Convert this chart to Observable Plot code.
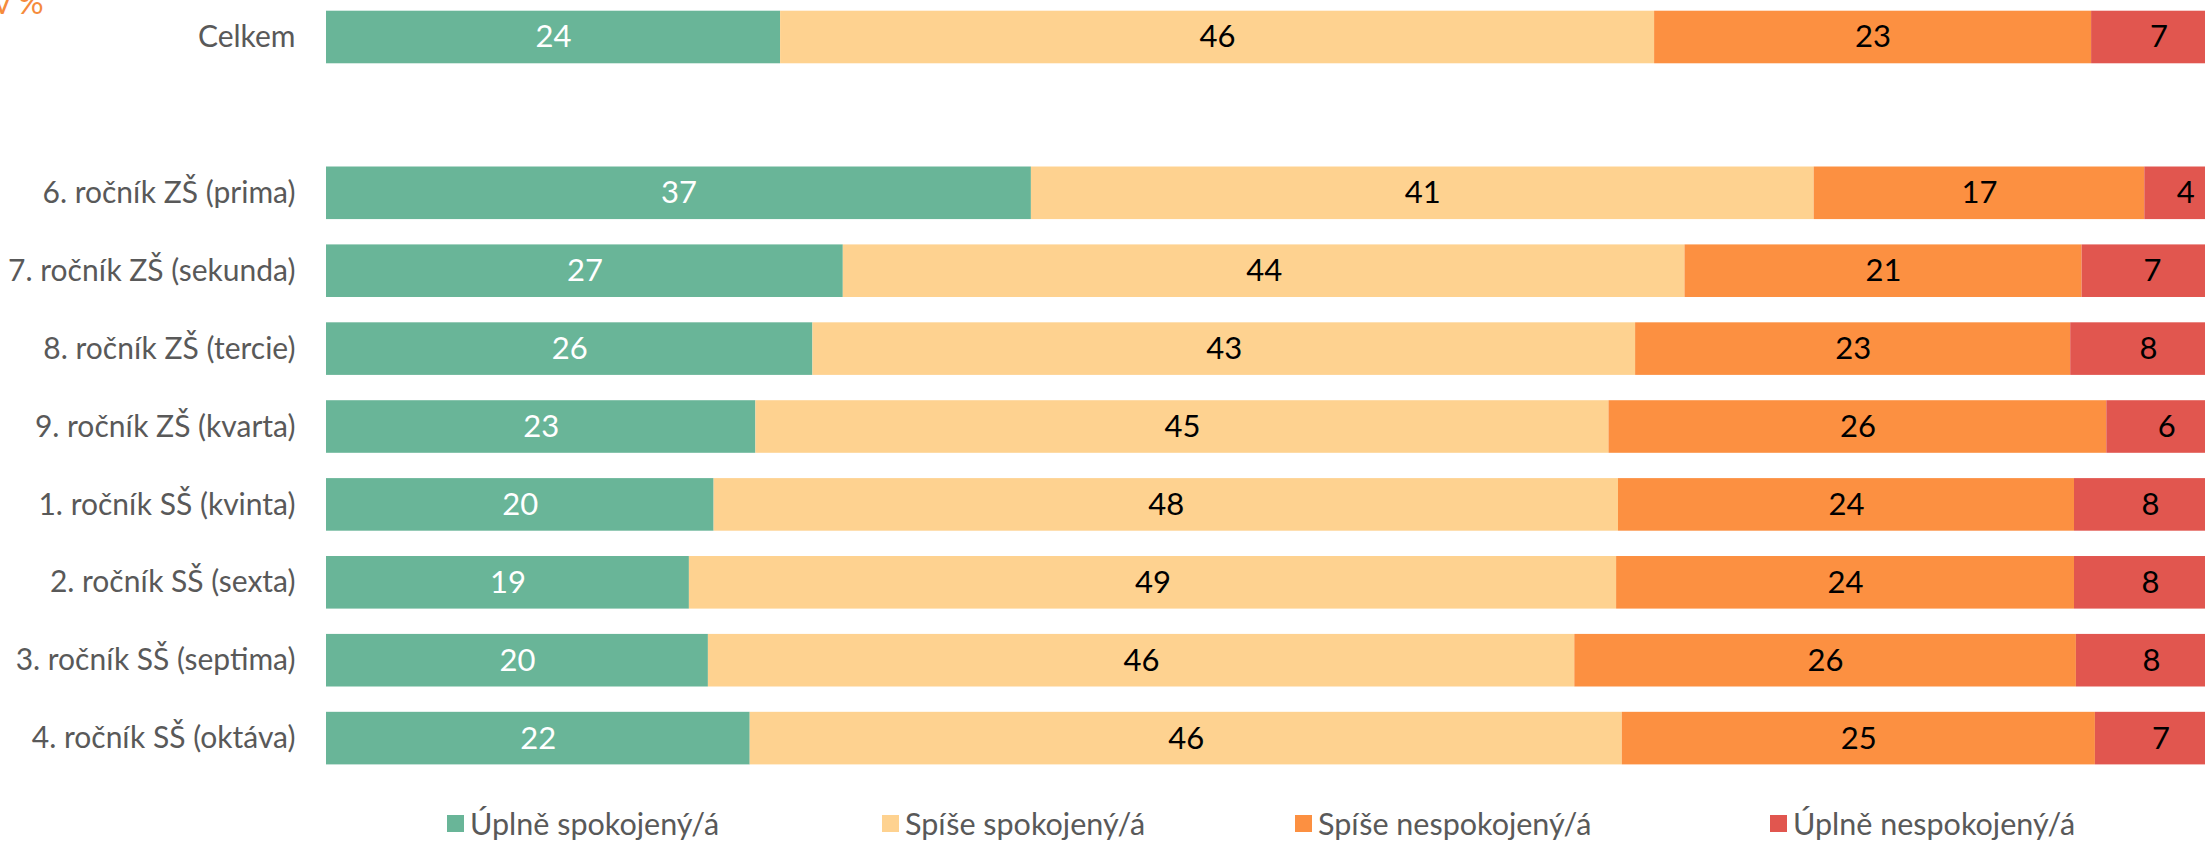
<!DOCTYPE html>
<html>
<head>
<meta charset="utf-8">
<script src="https://cdn.jsdelivr.net/npm/d3@7"></script>
<script src="https://cdn.jsdelivr.net/npm/@observablehq/plot@0.6"></script>
<style>
  html, body { margin: 0; padding: 0; background: #fff; overflow: hidden; }
  body { position: relative; width: 2205px; height: 842px; font-family: Lato, "Noto Sans", sans-serif; }
  #unit { position: absolute; left: -6px; top: -17px; color: #f58b3c; font-size: 32px; line-height: 38px; font-family: Lato, sans-serif; }
  #legend { position: absolute; top: 804px; left: 0; width: 2205px; height: 38px; }
  .item { position: absolute; top: 0; display: flex; align-items: center; height: 38px; font-size: 30.5px; color: #595959; }
  .sw { width: 17px; height: 17px; margin-right: 6px; }
</style>
</head>
<body>
<div id="unit">v %</div>
<div id="chart"></div>
<div id="legend"></div>
<script>
const groups = ["Celkem", "6. ročník ZŠ (prima)", "7. ročník ZŠ (sekunda)", "8. ročník ZŠ (tercie)", "9. ročník ZŠ (kvarta)", "1. ročník SŠ (kvinta)", "2. ročník SŠ (sexta)", "3. ročník SŠ (septima)", "4. ročník SŠ (oktáva)"];
const categories = ["Úplně spokojený/á", "Spíše spokojený/á", "Spíše nespokojený/á", "Úplně nespokojený/á"];
const colors = ["#69b598", "#fed290", "#fc9041", "#e1564f"];
const uplneSpokojeny = [23.9, 37.1, 27.2, 25.6, 22.6, 20.4, 19.1, 20.1, 22.3];
const spiseSpokojeny = [46.0, 41.2, 44.3, 43.3, 44.9, 47.6, 48.8, 45.6, 45.9];
const spiseNespokojeny = [23.0, 17.4, 20.9, 22.9, 26.2, 24.0, 24.1, 26.4, 24.9];
const uplneNespokojeny = [7.1, 4.3, 7.4, 8.2, 6.3, 8.0, 8.0, 7.9, 6.9];

const series = [uplneSpokojeny, spiseSpokojeny, spiseNespokojeny, uplneNespokojeny];
const data = [];
groups.forEach((g, i) => {
  categories.forEach((c, j) => data.push({group: g, cat: c, value: series[j][i]}));
});

const yDomain = [groups[0], " ", ...groups.slice(1)];

const chart = Plot.plot({
  width: 2205,
  height: 780,
  marginLeft: 326,
  marginRight: -21,
  marginTop: 10.7,
  marginBottom: 15.6,
  style: {fontFamily: "Lato, 'Noto Sans', sans-serif", fontSize: "30px", color: "#595959", background: "transparent", overflow: "visible"},
  x: {domain: [0, 100], axis: null},
  y: {domain: yDomain, paddingInner: 0.325, paddingOuter: 0, round: false, label: null, tickSize: 0, tickPadding: 31},
  color: {domain: categories, range: colors},
  marks: [
    Plot.barX(data, Plot.stackX({x: "value", y: "group", fill: "cat", z: "cat"})),
    Plot.text(data, Plot.stackX({x: "value", y: "group", z: "cat",
      text: d => d.cat === categories[0] ? String(Math.round(d.value)) : null,
      fill: "white", fontSize: 31})),
    Plot.text(data, Plot.stackX({x: "value", y: "group", z: "cat",
      text: d => d.cat !== categories[0] ? String(Math.round(d.value)) : null,
      fill: "black", fontSize: 31}))
  ]
});
document.getElementById("chart").appendChild(chart);

const legend = document.getElementById("legend");
const lefts = [447, 882, 1295, 1770];
categories.forEach((c, j) => {
  const it = document.createElement("div");
  it.className = "item";
  it.style.left = lefts[j] + "px";
  const sw = document.createElement("div");
  sw.className = "sw";
  sw.style.background = colors[j];
  const t = document.createElement("span");
  t.textContent = c;
  it.appendChild(sw);
  it.appendChild(t);
  legend.appendChild(it);
});
</script>
</body>
</html>
